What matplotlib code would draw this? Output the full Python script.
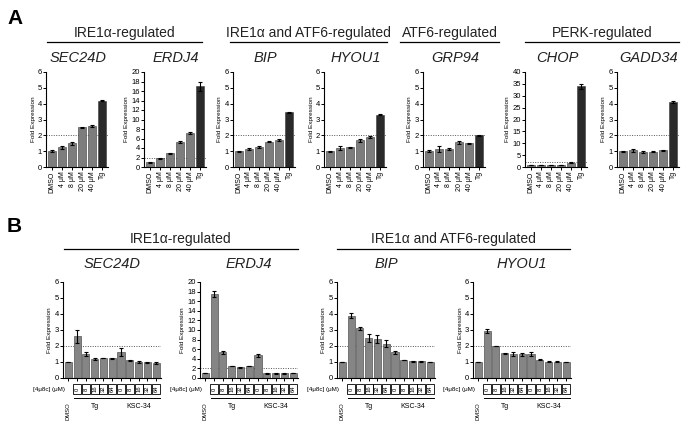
import numpy as np
import matplotlib.pyplot as plt
import matplotlib.transforms as mtransforms
from matplotlib.patches import Rectangle

plt.rcParams['font.family'] = ['Liberation Sans', 'DejaVu Sans']

W, H = 683, 422

# ---- panel A data ----
a_labels = ['DMSO', '4 μM', '8 μM', '20 μM', '40 μM', 'Tg']
a_genes = ['SEC24D', 'ERDJ4', 'BIP', 'HYOU1', 'GRP94', 'CHOP', 'GADD34']
a_sec24d = [1.0, 1.25, 1.5, 2.5, 2.6, 4.2]
a_sec24d_err = [0.05, 0.1, 0.08, 0.05, 0.05, 0.05]
a_erdj4 = [1.0, 1.8, 2.9, 5.3, 7.1, 17.0]
a_erdj4_err = [0.1, 0.2, 0.15, 0.15, 0.2, 0.9]
a_bip = [1.0, 1.15, 1.27, 1.6, 1.72, 3.45]
a_bip_err = [0.03, 0.05, 0.05, 0.05, 0.05, 0.05]
a_hyou1 = [1.0, 1.2, 1.25, 1.7, 1.9, 3.3]
a_hyou1_err = [0.03, 0.15, 0.03, 0.1, 0.05, 0.03]
a_grp94 = [1.0, 1.15, 1.13, 1.55, 1.5, 2.0]
a_grp94_err = [0.05, 0.2, 0.05, 0.1, 0.04, 0.05]
a_chop = [0.8, 0.9, 0.8, 0.9, 1.8, 34.0]
a_chop_err = [0.1, 0.1, 0.1, 0.1, 0.1, 1.0]
a_gadd34 = [1.0, 1.05, 0.93, 0.97, 1.07, 4.1]
a_gadd34_err = [0.03, 0.1, 0.05, 0.03, 0.03, 0.08]

# ---- panel B data ----
b_genes = ['SEC24D', 'ERDJ4', 'BIP', 'HYOU1']
b_conc = ['0', '8', '16', '32', '64']
b_groups = ['Tg', 'KSC-34']
b_sec24d = [1.0, 2.6, 1.5, 1.18, 1.25, 1.22, 1.65, 1.1, 1.0, 0.97, 0.95]
b_sec24d_err = [0, 0.4, 0.15, 0.07, 0.03, 0.05, 0.25, 0.05, 0.08, 0.03, 0.05]
b_erdj4 = [1.0, 17.5, 5.4, 2.5, 2.2, 2.5, 4.7, 1.0, 0.95, 0.95, 1.0]
b_erdj4_err = [0, 0.7, 0.3, 0.1, 0.15, 0.1, 0.4, 0.1, 0.05, 0.05, 0.05]
b_bip = [1.0, 3.9, 3.1, 2.5, 2.45, 2.15, 1.6, 1.12, 1.05, 1.05, 1.0]
b_bip_err = [0, 0.15, 0.1, 0.25, 0.25, 0.2, 0.08, 0.02, 0.02, 0.02, 0.02]
b_hyou1 = [1.0, 2.95, 2.0, 1.55, 1.5, 1.47, 1.5, 1.15, 1.02, 1.02, 1.0]
b_hyou1_err = [0, 0.12, 0.02, 0.03, 0.1, 0.1, 0.1, 0.02, 0.05, 0.02, 0.02]

fig = plt.figure(figsize=(W / 100, H / 100), dpi=100)


def fx(x):
    return x / W


def fy(y):
    return 1 - y / H


def make_ax(x0, x1, ytop, ybot):
    ax = fig.add_axes([fx(x0), fy(ybot), fx(x1 - x0), (ybot - ytop) / H])
    for s in ['top', 'right']:
        ax.spines[s].set_visible(False)
    for s in ['left', 'bottom']:
        ax.spines[s].set_linewidth(0.8)
    ax.tick_params(axis='y', labelsize=5.5, length=2, width=0.7, pad=1)
    ax.tick_params(axis='x', length=2, width=0.7, pad=1)
    ax.set_ylabel('Fold Expression', fontsize=4.6, labelpad=1.5)
    return ax


def bars(ax, vals, errs, colors, ymax, ystep):
    x = np.arange(len(vals))
    ax.axhline(2, color='#555555', lw=0.7, ls=(0, (1, 1.5)), zorder=1)
    ax.bar(x, vals, width=0.8, color=colors, edgecolor='#3a3a3a', linewidth=0.4, zorder=2)
    ax.errorbar(x, vals, yerr=errs, fmt='none', ecolor='black', elinewidth=0.8,
                capsize=1.3, capthick=0.8, zorder=3)
    ax.set_ylim(0, ymax)
    ax.set_yticks(np.arange(0, ymax + 0.01, ystep))
    ax.set_xticks(x)


# ---------------- Panel A ----------------
fig.text(fx(7), fy(18), 'A', fontsize=15, fontweight='bold', va='center', ha='left')

a_data = [(a_sec24d, a_sec24d_err, 6, 1), (a_erdj4, a_erdj4_err, 20, 2),
          (a_bip, a_bip_err, 6, 1), (a_hyou1, a_hyou1_err, 6, 1),
          (a_grp94, a_grp94_err, 6, 1), (a_chop, a_chop_err, 40, 5),
          (a_gadd34, a_gadd34_err, 6, 1)]
a_spines = [46, 144, 233, 324, 423, 525, 617]
a_colors = ['#7d7d7d'] * 5 + ['#2a2a2a']
for gene, (vals, errs, ymax, step), x0 in zip(a_genes, a_data, a_spines):
    ax = make_ax(x0, x0 + 62, 72, 167)
    bars(ax, vals, errs, a_colors, ymax, step)
    ax.set_xlim(-0.6, 5.6)
    ax.set_xticklabels(a_labels, rotation=90, fontsize=5)
    fig.text(fx(x0 + 32), fy(58), gene, fontsize=10.5, style='italic',
             ha='center', va='center', color='#222222')

a_headers = [('IRE1α-regulated', 47, 202), ('IRE1α and ATF6-regulated', 230, 387),
             ('ATF6-regulated', 400, 499), ('PERK-regulated', 525, 679)]
for txt, x0, x1 in a_headers:
    fig.text(fx((x0 + x1) / 2), fy(33), txt, fontsize=10, ha='center', va='center',
             color='#222222')
    fig.add_artist(plt.Line2D([fx(x0), fx(x1)], [fy(42), fy(42)], color='black', lw=0.9))

# ---------------- Panel B ----------------
fig.text(fx(7), fy(226), 'B', fontsize=15, fontweight='bold', va='center', ha='left')

b_data = [(b_sec24d, b_sec24d_err, 6, 1), (b_erdj4, b_erdj4_err, 20, 2),
          (b_bip, b_bip_err, 6, 1), (b_hyou1, b_hyou1_err, 6, 1)]
b_spines = [63, 200, 337, 473]
for gene, (vals, errs, ymax, step), x0 in zip(b_genes, b_data, b_spines):
    ax = make_ax(x0, x0 + 98, 282, 378)
    bars(ax, vals, errs, ['#858585'] * 11, ymax, step)
    ax.set_xlim(-0.6, 10.55)
    ax.set_xticklabels([])
    fig.text(fx(x0 + 49), fy(264), gene, fontsize=10.5, style='italic',
             ha='center', va='center', color='#222222')

    tr = mtransforms.blended_transform_factory(ax.transData, fig.transFigure)
    fig.text(fx(x0 - 30), fy(389), '[4μ8c] (μM)', fontsize=4.5, ha='left', va='center')
    for gi, grp in enumerate(b_groups):
        for ci, c in enumerate(b_conc):
            xi = 1 + gi * 5 + ci
            r = Rectangle((xi - 0.45, fy(394)), 0.9, 10 / H, transform=tr, fill=False,
                          edgecolor='black', lw=0.6, clip_on=False)
            ax.add_patch(r)
            ax.text(xi, fy(389), c, transform=tr, rotation=90, fontsize=4.2,
                    ha='center', va='center', clip_on=False)
        xs = 1 + gi * 5
        ax.plot([xs - 0.4, xs + 4.4], [fy(398), fy(398)], transform=tr, color='black',
                lw=0.7, clip_on=False)
        ax.text(xs + 2, fy(406), grp, transform=tr, fontsize=5, ha='center', va='center')
    ax.text(0, fy(402), 'DMSO', transform=tr, rotation=90, fontsize=4.2,
            ha='center', va='top')

b_headers = [('IRE1α-regulated', 64, 298), ('IRE1α and ATF6-regulated', 337, 570)]
for txt, x0, x1 in b_headers:
    fig.text(fx((x0 + x1) / 2), fy(239), txt, fontsize=10, ha='center', va='center',
             color='#222222')
    fig.add_artist(plt.Line2D([fx(x0), fx(x1)], [fy(249), fy(249)], color='black', lw=0.9))

fig.savefig('out.png', dpi=100)
